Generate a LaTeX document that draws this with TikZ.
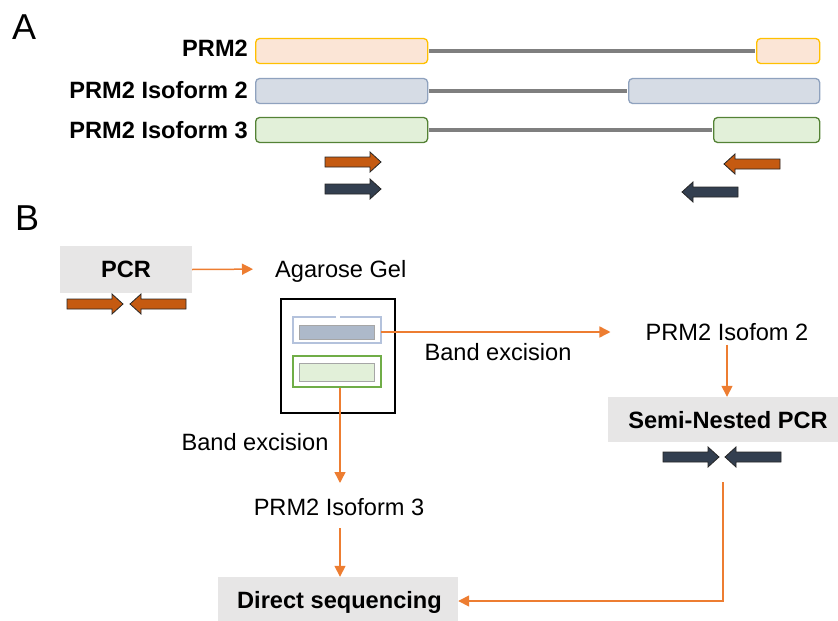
\documentclass[tikz,border=0pt]{standalone}
\usepackage{fontspec}
\setmainfont{Liberation Sans}
\usetikzlibrary{arrows.meta}
\definecolor{primerO}{HTML}{C55A11}
\definecolor{primerD}{HTML}{333F50}
\definecolor{flow}{HTML}{ED7D31}
\definecolor{boxgray}{HTML}{E7E6E6}
\definecolor{e1fill}{HTML}{FBE5D6}
\definecolor{e1line}{HTML}{FFC000}
\definecolor{e2fill}{HTML}{D6DCE5}
\definecolor{e2line}{HTML}{8FA2BE}
\definecolor{e3fill}{HTML}{E2F0D9}
\definecolor{e3line}{HTML}{548235}
\definecolor{intron}{HTML}{7F7F7F}
\definecolor{bandblue}{HTML}{ADB9CA}
\definecolor{bandout}{HTML}{B4C2DC}
\definecolor{bandgreen}{HTML}{70AD47}
\newcommand\myfont{\fontsize{23.6}{28}\selectfont}
\newcommand\fwdprimer[3]{\draw[primerline,fill=#3] (#1,#2) ++(0,-5) -- ++(45,0) -- ++(0,-5) -- ++(11,10) -- ++(-11,10) -- ++(0,-5) -- ++(-45,0) -- cycle;}
\newcommand\revprimer[3]{\draw[primerline,fill=#3] (#1,#2) ++(0,-5) -- ++(-45,0) -- ++(0,-5) -- ++(-11,10) -- ++(11,10) -- ++(0,-5) -- ++(45,0) -- cycle;}
\begin{document}
\begin{tikzpicture}[x=1pt,y=-1pt,
  txt/.style={inner sep=0pt,text height=16.9pt,text depth=0pt,font=\myfont},
  btxt/.style={txt,font=\myfont\bfseries},
  exon/.style={rounded corners=4pt,line width=1.3pt,inner sep=0pt,minimum height=25pt,anchor=west},
  intronline/.style={draw=intron,line width=3.6pt},
  primerline/.style={draw=black!85,line width=0.8pt,line join=miter},
  graybox/.style={fill=boxgray,inner sep=0pt},
  flowarrow/.style={draw=flow,line width=1.5pt,-{Triangle[length=11pt,width=11pt]}},
  panel/.style={inner sep=0pt,text height=26pt,text depth=0pt,font=\fontsize{36}{40}\selectfont,anchor=west}]
\useasboundingbox (0,0) rectangle (838,621);
% ---------- Panel A ----------
\node[panel] (labA) at (12,26) {A};
\node[btxt,anchor=east] (l1) at (248,48) {PRM2};
\node[btxt,anchor=east] (l2) at (248,90) {PRM2 Isoform 2};
\node[btxt,anchor=east] (l3) at (248,130) {PRM2 Isoform 3};
\node[exon,draw=e1line,fill=e1fill,minimum width=172pt] (e1a) at (255,51) {};
\node[exon,draw=e1line,fill=e1fill,minimum width=63pt] (e1b) at (756,51) {};
\node[exon,draw=e2line,fill=e2fill,minimum width=172pt] (e2a) at (255,91) {};
\node[exon,draw=e2line,fill=e2fill,minimum width=191pt] (e2b) at (628,91) {};
\node[exon,draw=e3line,fill=e3fill,minimum width=172pt] (e3a) at (255,130) {};
\node[exon,draw=e3line,fill=e3fill,minimum width=106pt] (e3b) at (713,130) {};
\draw[intronline,shorten <=0.7pt,shorten >=0.7pt] (e1a.east) -- (e1b.west);
\draw[intronline,shorten <=0.7pt,shorten >=0.7pt] (e2a.east) -- (e2b.west);
\draw[intronline,shorten <=0.7pt,shorten >=0.7pt] (e3a.east) -- (e3b.west);
\fwdprimer{325}{162}{primerO}
\fwdprimer{325}{189}{primerD}
\revprimer{780}{164}{primerO}
\revprimer{738}{192}{primerD}
% ---------- Panel B ----------
\node[panel] (labB) at (15,217) {B};
\node[graybox,minimum width=132pt,minimum height=47pt] (pcr) at (126,269.5) {};
\node[btxt] (pcrt) at (126,269) {PCR};
\fwdprimer{67}{304}{primerO}
\revprimer{186}{304}{primerO}
\node[txt,anchor=west] (agar) at (275,269) {Agarose Gel};
\draw[flowarrow,shorten >=22pt] (pcr.east) -- (agar.west);
% gel
\node[draw=black,line width=1.5pt,minimum width=114pt,minimum height=114pt,inner sep=0pt] (gel) at (338,356) {};
\node[inner sep=0pt,minimum width=88pt,minimum height=26pt] (band2) at (337,330) {};
\draw[bandout,line width=1.2pt] (336,317) -- (293,317) -- (293,343) -- (381,343) -- (381,317) -- (340,317);
\node[draw=black!35,fill=bandblue,line width=1pt,inner sep=0pt,minimum width=75pt,minimum height=14pt] (b2in) at (336.5,332) {};
\node[draw=bandgreen,line width=1.3pt,inner sep=0pt,minimum width=88pt,minimum height=31pt] (band3) at (337,371.5) {};
\node[draw=black!35,fill=e3fill,line width=1pt,inner sep=0pt,minimum width=75pt,minimum height=18pt] (b3in) at (336.5,372) {};
% right branch
\node[txt] (iso2) at (727,332) {PRM2 Isofom 2};
\node[txt] (exc1) at (498,352) {Band excision};
\draw[flowarrow,shorten >=35pt] (band2.east |- iso2) -- (iso2.west);
\node[graybox,minimum width=230pt,minimum height=45pt] (semi) at (723,419.5) {};
\node[btxt] (semit) at (728,420) {Semi-Nested PCR};
\draw[flowarrow] (iso2.south)++(0,4) coordinate (i2s) (i2s) -- (semi.north -| i2s);
\fwdprimer{663}{457}{primerD}
\revprimer{781}{457}{primerD}
% left branch
\node[txt] (exc2) at (255,442) {Band excision};
\node[txt] (iso3) at (339,507) {PRM2 Isoform 3};
\coordinate (tip3) at (340,483);
\draw[flowarrow] (band3.south -| tip3) -- (tip3);
\node[graybox,minimum width=240pt,minimum height=44pt] (seq) at (338,599) {};
\node[btxt] (seqt) at (339.5,600) {Direct sequencing};
\draw[flowarrow] (340,528) -- (seq.north -| 340,0);
\coordinate (ret) at (723,482);
\draw[flowarrow] (ret) -- (723,601) -- (seq.east |- 0,601);
\end{tikzpicture}
\end{document}
